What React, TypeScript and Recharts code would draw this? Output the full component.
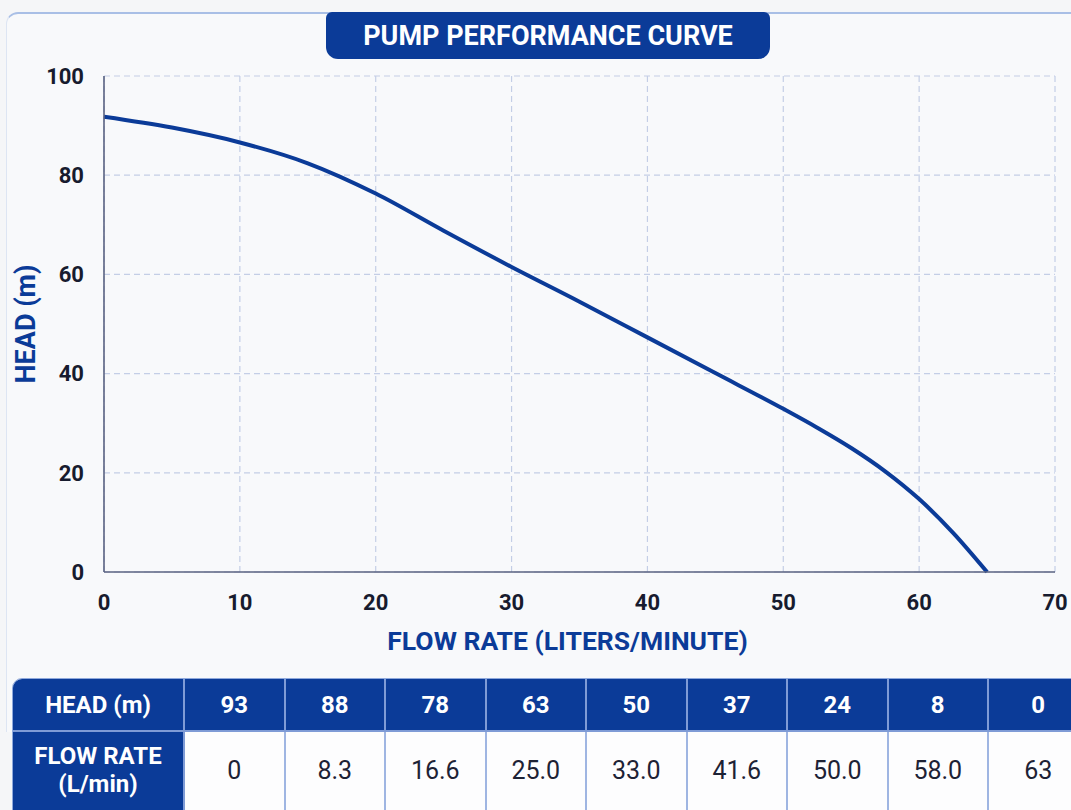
import React from 'react';
import { LineChart, Line, XAxis, YAxis, CartesianGrid } from 'recharts';

const curveFlow = [0, 5, 10, 15, 20, 25, 30, 35, 40, 45, 50, 52.5, 55, 57.5, 60, 62.5, 65];
const curveHead = [91.8, 89.6, 86.6, 82.4, 76.3, 68.8, 61.5, 54.5, 47.3, 40.1, 32.9, 29.1, 25.0, 20.3, 14.7, 7.9, 0];
const xTicks = [0, 10, 20, 30, 40, 50, 60, 70];
const yTicks = [0, 20, 40, 60, 80, 100];
const tableHeadValues = ['93', '88', '78', '63', '50', '37', '24', '8', '0'];
const tableFlowValues = ['0', '8.3', '16.6', '25.0', '33.0', '41.6', '50.0', '58.0', '63'];

const BLUE = '#0b3b98';
const FONT = 'Roboto, "Noto Sans", Arial, sans-serif';
const TICK = { fill: '#171b2e', fontSize: 22, fontWeight: 700, fontFamily: FONT };

const data = curveFlow.map((f, i) => ({ flow: f, head: curveHead[i] }));

const YLabel = (props: any) => {
  const vb = props.viewBox || {};
  const x = vb.x - 18;
  const y = vb.y + vb.height / 2;
  return (
    <text x={x} y={y} transform={`rotate(-90, ${x}, ${y})`} textAnchor="middle" dominantBaseline="central"
      fill={BLUE} fontSize={27} fontWeight={700} fontFamily={FONT}>HEAD (m)</text>
  );
};

const XLabel = (props: any) => {
  const vb = props.viewBox || {};
  const x = vb.x + vb.width / 2 - 12;
  const y = vb.y + vb.height + 48;
  return (
    <text x={x} y={y} textAnchor="middle" fill={BLUE} fontSize={26.5} fontWeight={700} fontFamily={FONT}>
      FLOW RATE (LITERS/MINUTE)
    </text>
  );
};

export default function App() {
  const cellBase: React.CSSProperties = {
    display: 'flex', alignItems: 'center', justifyContent: 'center', boxSizing: 'border-box', textAlign: 'center',
  };
  return (
    <div style={{ position: 'absolute', left: 0, top: 0, width: 1071, height: 810, overflow: 'hidden', background: '#f5f6f8', fontFamily: FONT }}>
      <div style={{ position: 'absolute', left: 6, top: 12, width: 1100, height: 720, borderTop: '2px solid #a9bfe6', borderLeft: '1px solid #dde5f3', borderTopLeftRadius: 12, background: '#f8f9fb', boxSizing: 'border-box' }} />
      <div style={{ position: 'absolute', left: 326, top: 12, width: 444, height: 47, background: BLUE, borderRadius: '6px 6px 12px 12px', color: '#fff', fontWeight: 700, fontSize: 27, display: 'flex', alignItems: 'center', justifyContent: 'center' }}>
        PUMP PERFORMANCE CURVE
      </div>
      <div style={{ position: 'absolute', left: 0, top: 0 }}>
        <LineChart width={1071} height={660} data={data} margin={{ top: 76, right: 16, bottom: 58, left: 44 }}>
          <CartesianGrid stroke="#c4cee6" strokeDasharray="6 4" strokeWidth={1.2} />
          <XAxis type="number" dataKey="flow" domain={[0, 70]} ticks={xTicks} interval={0} height={30}
            tick={TICK} tickLine={false} tickSize={0} tickMargin={22}
            axisLine={{ stroke: '#5b6382', strokeWidth: 1.6 }} label={{ content: XLabel } as any} />
          <YAxis type="number" domain={[0, 100]} ticks={yTicks} interval={0} width={60}
            tick={TICK} tickLine={false} tickSize={0} tickMargin={20}
            axisLine={{ stroke: '#5b6382', strokeWidth: 1.6 }} label={{ content: YLabel } as any} />
          <Line type="monotone" dataKey="head" stroke={BLUE} strokeWidth={4} dot={false} isAnimationActive={false} />
        </LineChart>
      </div>
      <div style={{ position: 'absolute', left: 12, top: 678, display: 'grid', gridTemplateColumns: '172px repeat(9, 100.5px)', gridTemplateRows: '53px 82px', borderTopLeftRadius: 10, overflow: 'hidden', border: '1px solid #8fa9dc', boxSizing: 'border-box' }}>
        <div style={{ ...cellBase, background: BLUE, color: '#fff', fontWeight: 700, fontSize: 24, borderRight: '2px solid #7f9bd6', borderBottom: '2px solid #7f9bd6' }}>HEAD (m)</div>
        {tableHeadValues.map((v, i) => (
          <div key={'h' + i} style={{ ...cellBase, background: BLUE, color: '#fff', fontWeight: 700, fontSize: 24, borderRight: '2px solid #7f9bd6', borderBottom: '2px solid #7f9bd6' }}>{v}</div>
        ))}
        <div style={{ ...cellBase, background: BLUE, color: '#fff', fontWeight: 700, fontSize: 24, lineHeight: '28px', borderRight: '2px solid #7f9bd6', paddingBottom: 6 }}>FLOW RATE<br />(L/min)</div>
        {tableFlowValues.map((v, i) => (
          <div key={'f' + i} style={{ ...cellBase, background: '#fdfdfe', color: '#1d2235', fontWeight: 400, fontSize: 25, borderRight: '2px solid #9fb5e2', paddingBottom: 6 }}>{v}</div>
        ))}
      </div>
    </div>
  );
}
